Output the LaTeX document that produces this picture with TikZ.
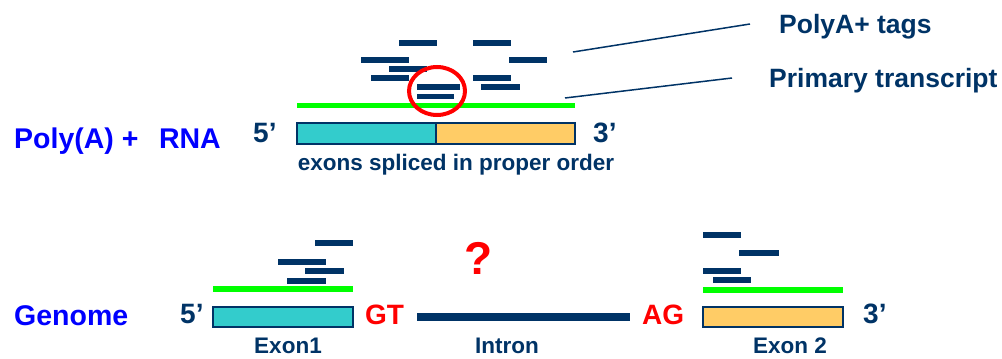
\documentclass[tikz,border=0pt]{standalone}
\usepackage{fontspec}
\setmainfont{Liberation Sans}
\begin{document}
\definecolor{navy}{RGB}{0,51,102}
\definecolor{exonA}{RGB}{51,204,204}
\definecolor{exonB}{RGB}{255,204,102}
\definecolor{readgreen}{RGB}{0,255,0}
\begin{tikzpicture}[x=1pt,y=-1pt,
  tag/.style={draw=navy,line width=5.5pt},
  transcript/.style={draw=readgreen,line width=5.5pt},
  exonbox/.style={draw=navy,line width=1.4pt,anchor=north west,inner sep=0pt,outer sep=0pt},
  leader/.style={draw=navy,line width=1.5pt},
  lbl/.style={font=\fontsize{26.5}{28}\selectfont\bfseries,text=navy,inner sep=0pt},
  small/.style={font=\fontsize{22.5}{24}\selectfont\bfseries,text=navy,inner sep=0pt},
  rowname/.style={font=\fontsize{28.5}{30}\selectfont\bfseries,text=blue,inner sep=0pt,anchor=base west},
  splice/.style={font=\fontsize{28}{30}\selectfont\bfseries,text=red,inner sep=0pt,anchor=base west},
  prime/.style={font=\fontsize{28}{30}\selectfont\bfseries,text=navy,inner sep=0pt,anchor=base west}]
\useasboundingbox (0,0) rectangle (1002,359);

% ---- Poly(A)+ RNA: spliced transcript with its tags ----
\draw[tag] (399,43) -- (437,43);
\draw[tag] (473,43) -- (511,43);
\draw[tag] (361,60) -- (409,60);
\draw[tag] (509,60) -- (547,60);
\draw[tag] (389,69) -- (427,69);
\draw[tag] (371,78) -- (409,78);
\draw[tag] (473,78) -- (511,78);
\draw[tag] (417,87) -- (460,87);
\draw[tag] (481,87) -- (520,87);
\draw[tag] (417,96.5) -- (454,96.5);
\draw[transcript] (297,105.5) -- (575,105.5);
\draw[red,line width=4pt] (437,91) ellipse [x radius=28,y radius=24];

\node[exonbox,fill=exonA,minimum width=139pt,minimum height=21pt] (mA) at (297,123) {};
\node[exonbox,fill=exonB,minimum width=139pt,minimum height=21pt] (mB) at (436,123) {};
\node[small,anchor=base] (order) at (456,170) {exons spliced in proper order};
\node[prime] (p5top) at (253,142) {5’};
\node[prime] (p3top) at (593,142) {3’};
\node[rowname] (polya) at (14,148) {Poly(A) +\ \ \,RNA};

\node[lbl,anchor=base west] (tagslbl) at (779,33) {PolyA+ tags};
\node[lbl,anchor=base west] (primlbl) at (769,87) {Primary transcript};
\coordinate (tagsfrom) at (573,52);
\coordinate (tagsto) at (750,24);
\coordinate (primfrom) at (565,98);
\coordinate (primto) at (732,78);
\draw[leader] (tagsfrom) -- (tagsto);
\draw[leader] (primfrom) -- (primto);

% ---- Genome: two exons and the intron between them ----
\draw[tag] (315,243) -- (353,243);
\draw[tag] (278,262) -- (326,262);
\draw[tag] (305,271) -- (344,271);
\draw[tag] (287,281) -- (326,281);
\draw[transcript] (213,289) -- (353,289);

\draw[tag] (703,235) -- (741,235);
\draw[tag] (739,253) -- (779,253);
\draw[tag] (703,271) -- (741,271);
\draw[tag] (713,280) -- (751,280);
\draw[transcript] (703,290) -- (843,290);

\node[exonbox,fill=exonA,minimum width=140pt,minimum height=20pt] (ex1) at (213,307) {};
\node[exonbox,fill=exonB,minimum width=140pt,minimum height=20pt] (ex2) at (703,307) {};
\draw[navy,line width=8pt] (417,317) -- (630,317);

\node[splice] (gt) at (365,324) {GT};
\node[splice] (ag) at (642,324) {AG};
\node[font=\fontsize{46}{48}\selectfont\bfseries,text=red,inner sep=0pt,anchor=base] (qm) at (479,274) {?};
\node[prime] (p5bot) at (180,323) {5’};
\node[prime] (p3bot) at (863,323) {3’};
\node[rowname] (genome) at (14,325) {Genome};

\node[small,anchor=base] (ex1lbl) at (288,353) {Exon1};
\node[small,anchor=base] (intronlbl) at (507,353) {Intron};
\node[small,anchor=base] (ex2lbl) at (790,353) {Exon 2};
\end{tikzpicture}
\end{document}
